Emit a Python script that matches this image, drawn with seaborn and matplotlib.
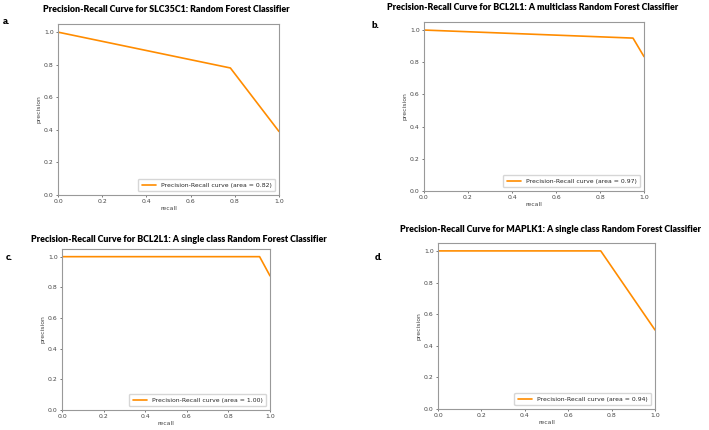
import numpy as np
import pandas as pd
import seaborn as sns
import matplotlib.pyplot as plt

# recall / precision points
recall_a = [0.0, 0.78, 1.0]
precision_a = [1.0, 0.78, 0.39]
recall_b = [0.0, 0.95, 1.0]
precision_b = [1.0, 0.95, 0.835]
recall_c = [0.0, 0.95, 1.0]
precision_c = [1.0, 1.0, 0.875]
recall_d = [0.0, 0.75, 1.0]
precision_d = [1.0, 1.0, 0.5]

areas = ['0.82', '0.97', '1.00', '0.94']
titles = ['Precision-Recall Curve for SLC35C1: Random Forest Classifier',
          'Precision-Recall Curve for BCL2L1: A multiclass Random Forest Classifier',
          'Precision-Recall Curve for BCL2L1: A single class Random Forest Classifier',
          'Precision-Recall Curve for MAPLK1: A single class Random Forest Classifier']
letters = ['a.', 'b.', 'c.', 'd.']

sns.set_style('white')
plt.rcParams['font.family'] = ['DejaVu Sans']

W, H = 709, 430
fig = plt.figure(figsize=(W / 100, H / 100), dpi=100)

# axes boxes in pixels: left, right, top, bottom
boxes = [(58, 279, 24, 195), (424, 644, 22, 191), (62, 270, 249, 410), (438, 655, 243, 409)]
title_pos = [(166, 9), (533, 7), (179, 239), (550, 230)]
letter_pos = [(3, 22), (372, 25), (6, 257), (375, 258)]

series = [(recall_a, precision_a), (recall_b, precision_b),
          (recall_c, precision_c), (recall_d, precision_d)]

fs = 4.4
for i, (rec, prec) in enumerate(series):
    l, r, t, b = boxes[i]
    ax = fig.add_axes([l / W, 1 - b / H, (r - l) / W, (b - t) / H])
    df = pd.DataFrame({'recall': rec, 'precision': prec})
    sns.lineplot(data=df, x='recall', y='precision', ax=ax, sort=False, estimator=None,
                 color='darkorange', lw=1.2,
                 label='Precision-Recall curve (area = %s)' % areas[i])
    ax.set_xlim(0.0, 1.0)
    ax.set_ylim(0.0, 1.05)
    ax.set_xticks(np.arange(0, 1.01, 0.2))
    ax.set_yticks(np.arange(0, 1.01, 0.2))
    ax.tick_params(labelsize=fs, length=1.6, width=0.5, pad=1.5, colors='#444444',
                   bottom=True, left=True)
    ax.set_xlabel('recall', fontsize=fs, color='#444444', labelpad=1.5)
    ax.set_ylabel('precision', fontsize=fs, color='#444444', labelpad=1.5)
    for s in ax.spines.values():
        s.set_color('#999999')
        s.set_linewidth(0.8)
    ax.legend(loc='lower right', fontsize=fs, frameon=True, edgecolor='#cccccc',
              handlelength=2.3, borderpad=0.6, borderaxespad=0.6)
    tx, ty = title_pos[i]
    fig.text(tx / W, 1 - ty / H, titles[i], ha='center', va='center', color='black',
             fontsize=6.4, fontweight='heavy', family=['Lato', 'DejaVu Sans'])
    lx, ly = letter_pos[i]
    fig.text(lx / W, 1 - ly / H, letters[i], ha='left', va='center', color='black',
             fontsize=6.8, fontweight='heavy', family=['Lato', 'DejaVu Sans'])

fig.savefig('out.png', dpi=100)
